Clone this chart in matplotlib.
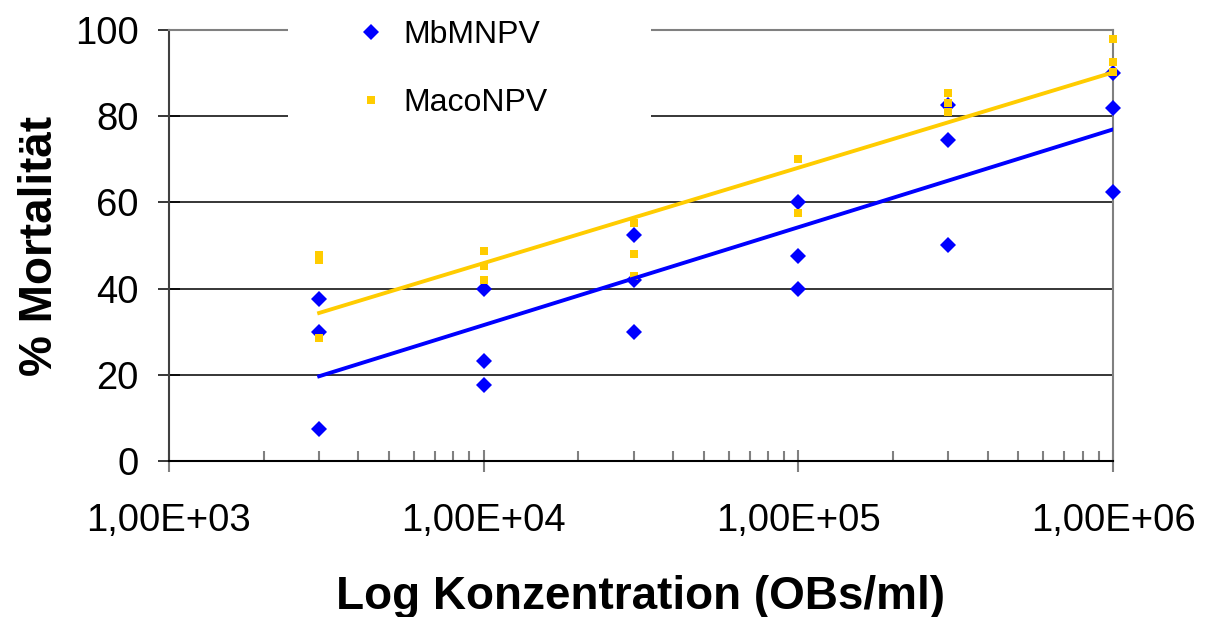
import numpy as np
import matplotlib
matplotlib.use("Agg")
import matplotlib.pyplot as plt
from matplotlib.patches import Rectangle
from matplotlib.ticker import LogLocator, FixedLocator

plt.rcParams['font.family'] = ['Liberation Sans', 'DejaVu Sans']

# concentrations (OBs/ml), three replicates each
conc = [3e3, 1e4, 3e4, 1e5, 3e5, 1e6]
mb_mnpv = [
    [37.5, 30.0, 7.5],
    [40.0, 23.3, 17.6],
    [52.5, 42.0, 30.0],
    [60.0, 47.5, 40.0],
    [82.5, 74.5, 50.0],
    [90.0, 82.0, 62.5],
]
maco_npv = [
    [47.9, 46.7, 28.6],
    [48.8, 45.2, 42.0],
    [55.3, 48.0, 42.9],
    [70.0, 57.5, 57.5],
    [85.4, 83.0, 81.0],
    [98.0, 92.5, 90.3],
]
yticks = [0, 20, 40, 60, 80, 100]
xticks = [1e3, 1e4, 1e5, 1e6]
xticklabels = ["1,00E+03", "1,00E+04", "1,00E+05", "1,00E+06"]

BLUE = "#0000FF"
YELLOW = "#FFCC00"


def flat(conc, reps):
    xs, ys = [], []
    for c, r in zip(conc, reps):
        for v in r:
            xs.append(c)
            ys.append(v)
    return np.array(xs), np.array(ys)


def main():
    fig = plt.figure(figsize=(12.07, 6.17), dpi=100)
    ax = fig.add_axes([169 / 1207, 1 - 461 / 617, (1113 - 169) / 1207, (461 - 30) / 617])

    ax.set_xscale("log")
    ax.set_xlim(1e3, 1e6)
    ax.set_ylim(0, 100)

    for reps, color, marker, ms, label in [
        (mb_mnpv, BLUE, "D", 8.3, "MbMNPV"),
        (maco_npv, YELLOW, "s", 5.5, "MacoNPV"),
    ]:
        xs, ys = flat(conc, reps)
        ax.plot(xs, ys, linestyle="none", marker=marker, ms=ms, color=color,
                markeredgewidth=0, label=label, zorder=3, clip_on=False)
        # logarithmic trendline
        k, d = np.polyfit(np.log10(xs), ys, 1)
        lx = np.logspace(np.log10(min(conc)), np.log10(max(conc)), 50)
        ax.plot(lx, k * np.log10(lx) + d, color=color, lw=2.8, zorder=4)

    ax.yaxis.set_major_locator(FixedLocator(yticks))
    ax.xaxis.set_major_locator(FixedLocator(xticks))
    ax.set_xticklabels(xticklabels)
    ax.xaxis.set_minor_locator(LogLocator(base=10, subs=np.arange(2, 10)))
    ax.xaxis.set_minor_formatter(plt.NullFormatter())

    ax.grid(axis="y", color="black", lw=1.1, zorder=1)
    ax.set_axisbelow(True)

    ax.tick_params(axis="x", which="major", direction="inout", length=16, width=1.5,
                   color="#808080", labelsize=27.5, pad=22)
    ax.tick_params(axis="x", which="minor", direction="in", length=7, width=1.5,
                   color="#808080")
    ax.tick_params(axis="y", which="major", direction="inout", length=16, width=1.1,
                   color="black", labelsize=27.5, pad=14)

    ax.spines["left"].set_color("#404040")
    ax.spines["bottom"].set_color("black")
    ax.spines["top"].set_color("#808080")
    ax.spines["right"].set_color("#808080")
    for s in ax.spines.values():
        s.set_linewidth(1.5)

    ax.set_xlabel("Log Konzentration (OBs/ml)", fontsize=33, fontweight="bold", labelpad=26)
    ax.set_ylabel("% Mortalität", fontsize=33, fontweight="bold", labelpad=9)

    # white legend area covering grid lines
    fig.patches.append(Rectangle((288 / 1207, 1 - 118 / 617), (651 - 288) / 1207, 118 / 617,
                                 transform=fig.transFigure, facecolor="white",
                                 edgecolor="none", zorder=10))
    leg = fig.legend(loc="upper left", bbox_to_anchor=(339 / 1207, 1 - 4 / 617),
                     frameon=False, fontsize=23, handlelength=1.0, handletextpad=0.5,
                     labelspacing=1.2, borderpad=0, markerscale=1.0)
    leg.set_zorder(11)

    fig.savefig("out.png", dpi=100)


if __name__ == "__main__":
    main()
